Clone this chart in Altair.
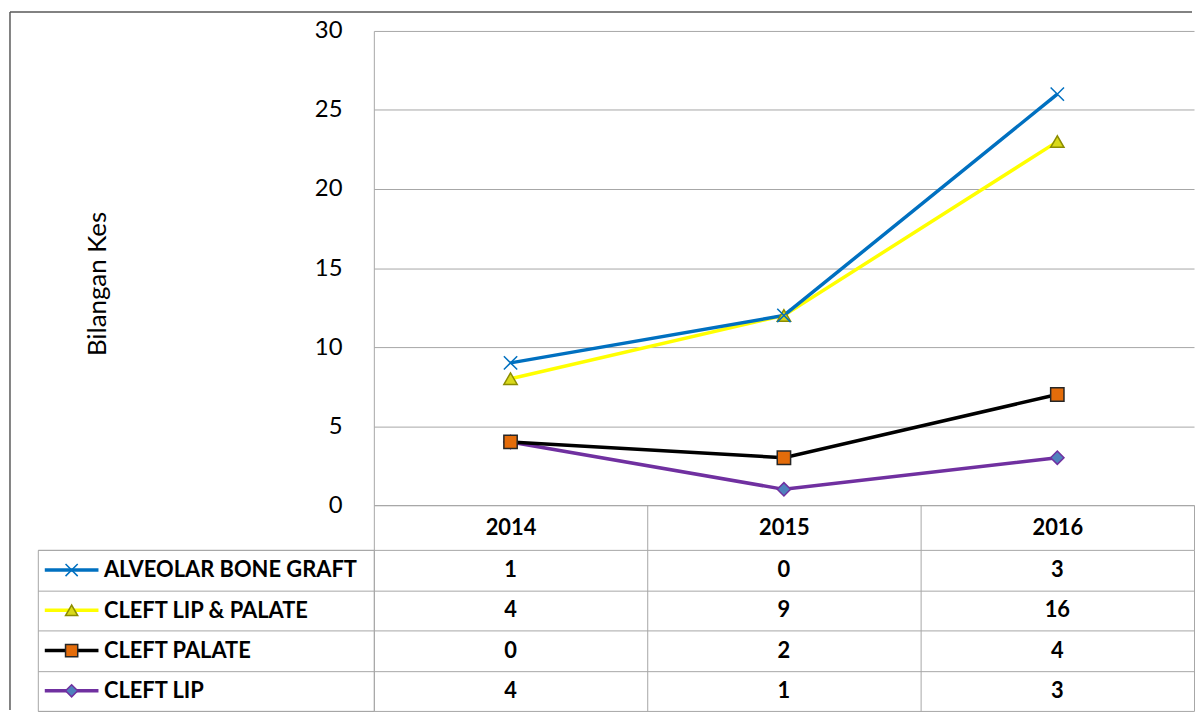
import altair as alt
import pandas as pd

# ---- data ----
years = ["2014", "2015", "2016"]
series = ["ALVEOLAR BONE GRAFT", "CLEFT LIP & PALATE", "CLEFT PALATE", "CLEFT LIP"]
alveolar_bone_graft = [1, 0, 3]
cleft_lip_palate = [4, 9, 16]
cleft_palate = [0, 2, 4]
cleft_lip = [4, 1, 3]
y_ticks = [0, 5, 10, 15, 20, 25, 30]

# ---- styles ----
line_colors = ["#0070C0", "#FFFF00", "#000000", "#7030A0"]
marker_fills = ["transparent", "#D9D91A", "#E46C0A", "#4F81BD"]
marker_strokes = ["#0070C0", "#8C8C00", "#262626", "#7030A0"]
marker_shapes = ["M-1,-1L1,1M-1,1L1,-1", "triangle-up", "square", "diamond"]
GRID = "#A6A6A6"
FRAME = "#595959"
FONT = "Lato"

values_by_series = dict(zip(series, [alveolar_bone_graft, cleft_lip_palate, cleft_palate, cleft_lip]))
rows = []
for stack_pos, name in enumerate(reversed(series)):
    for year, v in zip(years, values_by_series[name]):
        rows.append({"series": name, "year": year, "value": v, "stack": stack_pos})
df = pd.DataFrame(rows)
key_df = pd.DataFrame({"series": series})
frame_df = pd.DataFrame({"frame": [0]})

PLOT_W = 825
PLOT_H = 477
KEY_W = 338
TABLE_H = 162
HEADER_H = 45

color_scale = alt.Scale(domain=series, range=line_colors)
shape_scale = alt.Scale(domain=series, range=marker_shapes)
fill_scale = alt.Scale(domain=series, range=marker_fills)
stroke_scale = alt.Scale(domain=series, range=marker_strokes)

def year_scale():
    return alt.Scale(type="band", domain=years, paddingInner=0, paddingOuter=0)

def series_scale():
    return alt.Scale(type="band", domain=series, paddingInner=0, paddingOuter=0)

# ---- line chart (stacked lines) ----
base = alt.Chart(df).transform_window(
    total="sum(value)",
    groupby=["year"],
    sort=[alt.SortField("stack", order="ascending")],
)

x_enc = alt.X(
    "year:N",
    scale=year_scale(),
    bandPosition=0.5,
    axis=alt.Axis(
        title=None, orient="bottom", grid=False,
        domainColor=GRID, domainWidth=1,
        tickBand="extent", tickSize=HEADER_H, tickColor=GRID, tickWidth=1,
        labelFont=FONT, labelFontWeight="bold", labelFontSize=22, labelColor="black",
        labelBaseline="middle", labelPadding=-22, labelAngle=0,
    ),
)
y_enc = alt.Y(
    "total:Q",
    scale=alt.Scale(domain=[0, 30], nice=False, zero=True),
    axis=alt.Axis(
        values=y_ticks, ticks=False,
        domainColor=GRID, domainWidth=1,
        grid=True, gridColor=GRID, gridWidth=1,
        labelFont=FONT, labelFontSize=24, labelColor="black", labelPadding=32,
        title="Bilangan Kes", titleFont=FONT, titleFontSize=26, titleFontWeight="normal",
        titleColor="black", titleAngle=270, titleX=-278, titleY=254,
        titleAlign="center", titleBaseline="middle",
    ),
)

lines = base.mark_line(strokeWidth=3.5).encode(
    x=x_enc, y=y_enc,
    color=alt.Color("series:N", scale=color_scale, legend=None),
)
points = base.mark_point(filled=True, opacity=1, size=180, strokeWidth=1.5).encode(
    x=x_enc, y=y_enc,
    shape=alt.Shape("series:N", scale=shape_scale, legend=None),
    fill=alt.Fill("series:N", scale=fill_scale, legend=None),
    stroke=alt.Stroke("series:N", scale=stroke_scale, legend=None),
)
line_chart = alt.layer(lines, points).properties(width=PLOT_W, height=PLOT_H)

# ---- frame holder (left of the plot) ----
top_line = alt.Chart(frame_df).mark_rule(color=FRAME, strokeWidth=1.5).encode(
    x=alt.value(-28), x2=alt.value(KEY_W + PLOT_W - 2), y=alt.value(-19)
)
left_line = alt.Chart(frame_df).mark_rule(color=FRAME, strokeWidth=1.5).encode(
    x=alt.value(-28), y=alt.value(-19), y2=alt.value(PLOT_H + HEADER_H + TABLE_H - 1)
)
spacer = alt.layer(top_line, left_line).properties(width=KEY_W, height=PLOT_H)

# ---- legend key column of the data table ----
key_y = alt.Y(
    "series:N",
    scale=series_scale(),
    bandPosition=0.5,
    axis=alt.Axis(
        title=None, orient="left", ticks=False, domain=False,
        grid=True, gridColor=GRID, gridWidth=1, tickBand="extent",
        labelAlign="left", labelBaseline="middle", labelPadding=-66, labelLimit=400,
        labelFont=FONT, labelFontSize=22, labelFontWeight="bold", labelColor="black",
    ),
)
key_lines = alt.Chart(key_df).mark_rule(strokeWidth=3.5).encode(
    x=alt.value(7), x2=alt.value(61), y=key_y,
    color=alt.Color("series:N", scale=color_scale, legend=None),
)
key_points = alt.Chart(key_df).mark_point(filled=True, opacity=1, size=150, strokeWidth=1.5).encode(
    x=alt.value(34), y=key_y,
    shape=alt.Shape("series:N", scale=shape_scale, legend=None),
    fill=alt.Fill("series:N", scale=fill_scale, legend=None),
    stroke=alt.Stroke("series:N", scale=stroke_scale, legend=None),
)
key_panel = alt.layer(key_lines, key_points).properties(
    width=KEY_W, height=TABLE_H, view=alt.ViewBackground(stroke=GRID, strokeWidth=1)
)

# ---- data table values ----
table = alt.Chart(df).mark_text(font=FONT, fontSize=22, fontWeight="bold", color="black").encode(
    x=alt.X(
        "year:N", scale=year_scale(), bandPosition=0.5,
        axis=alt.Axis(orient="top", title=None, labels=False, ticks=False, domain=False,
                      grid=True, gridColor=GRID, gridWidth=1, tickBand="extent"),
    ),
    y=alt.Y(
        "series:N", scale=series_scale(), bandPosition=0.5,
        axis=alt.Axis(title=None, labels=False, ticks=False, domain=False,
                      grid=True, gridColor=GRID, gridWidth=1, tickBand="extent"),
    ),
    text=alt.Text("value:Q"),
).properties(width=PLOT_W, height=TABLE_H)

chart = (
    alt.concat(
        spacer, line_chart, key_panel, table,
        columns=2,
        spacing={"row": HEADER_H, "column": 0},
        bounds="flush",
    )
    .properties(padding={"left": 0, "top": 0, "right": 0, "bottom": 0})
    .configure(font=FONT)
    .configure_view(stroke="transparent")
)

chart.save("out.html", embed_options={"renderer": "svg", "actions": False})
